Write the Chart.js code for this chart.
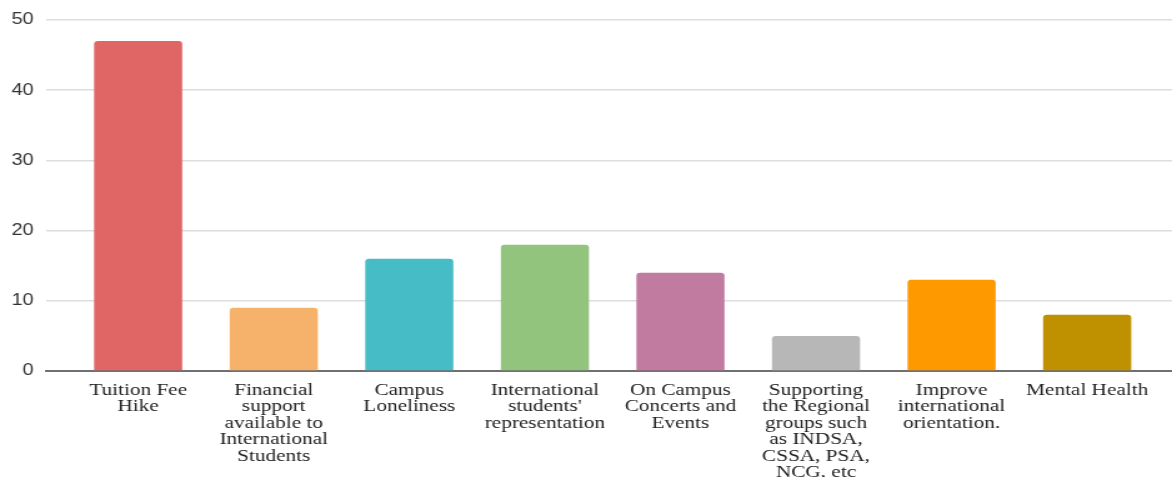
<!DOCTYPE html>
<html>
<head>
<meta charset="utf-8">
<script src="https://cdn.jsdelivr.net/npm/chart.js@4.4.1/dist/chart.umd.min.js"></script>
<style>
  html, body { margin: 0; padding: 0; background: #fff; overflow: hidden; }
  #wrap { width: 938px; height: 477px; transform: scaleX(1.2495); transform-origin: 0 0; }
</style>
</head>
<body>
<div id="wrap"><canvas id="myChart"></canvas></div>
<script>
const labels = [
    ["Tuition Fee", "Hike"],
    ["Financial", "support", "available to", "International", "Students"],
    ["Campus", "Loneliness"],
    ["International", "students'", "representation"],
    ["On Campus", "Concerts and", "Events"],
    ["Supporting", "the Regional", "groups such", "as INDSA,", "CSSA, PSA,", "NCG, etc"],
    ["Improve", "international", "orientation."],
    ["Mental Health"],
];
const counts = [47, 9, 16, 18, 14, 5, 13, 8];
const colors = ["#e06666", "#f6b26b", "#46bdc6", "#93c47d", "#c27ba0", "#b7b7b7", "#ff9900", "#bf9000"];
const yTicks = [0, 10, 20, 30, 40, 50];

const data = {
    datasets: [
        {
            data: counts.map((v, i) => ({ x: i, y: v })),
            backgroundColor: colors,
            borderRadius: 3,
            borderSkipped: "start",
            barPercentage: 0.65,
            categoryPercentage: 1,
        },
    ],
};

const config = {
    type: "bar",
    data: data,
    options: {
        responsive: true,
        maintainAspectRatio: false,
        animation: false,
        layout: { padding: { top: 20, right: 0, bottom: 0, left: 0 } },
        plugins: { legend: { display: false }, tooltip: { enabled: false } },
        scales: {
            x: {
                type: "linear",
                offset: false,
                min: -0.678,
                max: 7.626,
                grid: { display: false },
                border: { display: true, color: "#707070", width: 2 },
                afterBuildTicks: (s) => { s.ticks = labels.map((_, i) => ({ value: i })); },
                afterFit: (s) => { s.height = 106; },
                ticks: {
                    autoSkip: false,
                    maxRotation: 0,
                    padding: 3,
                    color: "#222",
                    font: { family: "'Liberation Serif', serif", size: 17, lineHeight: 0.97 },
                    callback: (v) => labels[v] || "",
                },
            },
            y: {
                min: 0,
                max: 50,
                afterBuildTicks: (s) => { s.ticks = yTicks.map((v) => ({ value: v })); },
                afterFit: (s) => { s.width = 37; },
                border: { display: false },
                grid: { color: "#dddddd", lineWidth: 1.6, drawTicks: false },
                ticks: {
                    padding: 10,
                    color: "#333",
                    font: { family: "'Liberation Sans', Arial, sans-serif", size: 16 },
                },
            },
        },
    },
};

new Chart(document.getElementById("myChart"), config);
</script>
</body>
</html>
